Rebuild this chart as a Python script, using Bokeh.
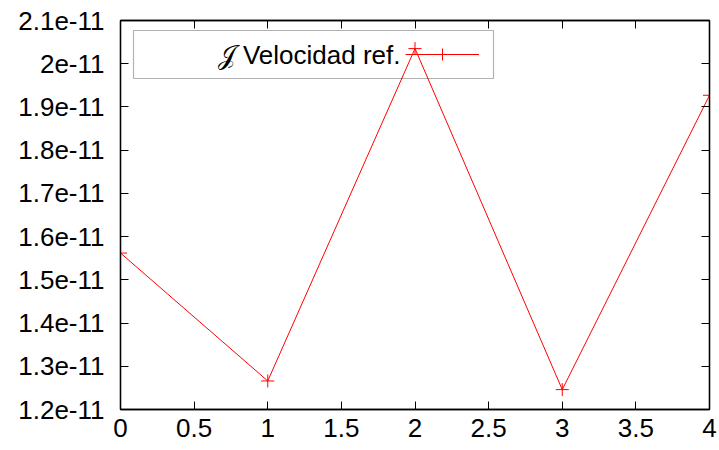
from bokeh.plotting import figure
from bokeh.models import (Range1d, FixedTicker, CustomJSTickFormatter, LinearAxis,
                          BoxAnnotation, Label, Legend, LegendItem)
from bokeh.embed import file_html
from bokeh.resources import INLINE

# data
x_vals = [0, 1, 2, 3, 4]
y_vals = [1.562e-11, 1.266e-11, 2.035e-11, 1.246e-11, 1.927e-11]
x_ticks = [0, 0.5, 1, 1.5, 2, 2.5, 3, 3.5, 4]
y_ticks = [1.2e-11, 1.3e-11, 1.4e-11, 1.5e-11, 1.6e-11, 1.7e-11, 1.8e-11, 1.9e-11, 2.0e-11, 2.1e-11]
series_label = "\U0001D4A5 Velocidad ref."

FONT = "Liberation Sans"
FS = "26px"

p = figure(width=719, height=450, output_backend="svg", toolbar_location=None,
           x_range=Range1d(0, 4), y_range=Range1d(1.2e-11, 2.1e-11),
           min_border_left=120, min_border_right=10, min_border_top=20, min_border_bottom=41)
p.xgrid.visible = False
p.ygrid.visible = False
p.outline_line_color = "black"
p.outline_line_width = 1.3
p.background_fill_color = "white"
p.border_fill_color = "white"

xfmt = CustomJSTickFormatter(code="return String(Math.round(tick*10)/10);")
yfmt = CustomJSTickFormatter(code="var v=(tick*1e11).toFixed(1); if (v.endsWith('.0')) v=v.slice(0,-2); return v+'e-11';")

def style(ax, ticks, fmt, show):
    ax.ticker = FixedTicker(ticks=ticks)
    ax.formatter = fmt
    ax.major_tick_in = 8
    ax.major_tick_out = 0
    ax.minor_tick_in = 0
    ax.minor_tick_out = 0
    ax.axis_line_color = "black"
    ax.axis_line_width = 1.3
    ax.major_tick_line_color = "black"
    ax.major_tick_line_width = 1
    ax.major_label_text_font = FONT
    ax.major_label_text_font_size = FS
    ax.major_label_text_font_style = "normal"
    ax.major_label_text_color = "black"
    if not show:
        ax.major_label_text_alpha = 0
        ax.major_label_text_font_size = "1px"

style(p.xaxis[0], x_ticks, xfmt, True)
style(p.yaxis[0], y_ticks, yfmt, True)
p.xaxis[0].major_label_standoff = 9
p.yaxis[0].major_label_standoff = 16

top = LinearAxis()
style(top, x_ticks, xfmt, False)
p.add_layout(top, "above")
right = LinearAxis()
style(right, y_ticks, yfmt, False)
p.add_layout(right, "right")

ln = p.line(x_vals, y_vals, line_color="red", line_width=1)
sc = p.scatter(x_vals, y_vals, marker="cross", size=13, line_color="red", line_width=1)

# legend box
p.add_layout(BoxAnnotation(left=13, right=373, top=379, bottom=331,
                           left_units="screen", right_units="screen",
                           top_units="screen", bottom_units="screen",
                           fill_alpha=0,
                           line_color="black", line_width=1.2))
p.add_layout(Label(x=280, y=355, x_units="screen", y_units="screen",
                   text=series_label, text_font=FONT, text_font_size=FS,
                   text_align="right", text_baseline="middle", text_color="black"))
leg = Legend(items=[LegendItem(label=" ", renderers=[ln, sc])],
             location=(285, 340), glyph_width=74, glyph_height=30,
             border_line_alpha=0, background_fill_alpha=0,
             padding=0, margin=0, label_width=0, label_text_font_size="1px")
p.add_layout(leg, "center")

open("out.html", "w").write(file_html(p, INLINE))
